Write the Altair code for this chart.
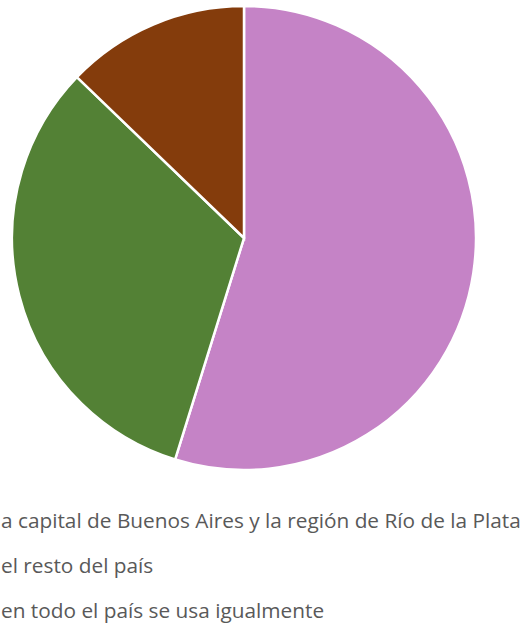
import altair as alt
import pandas as pd

categories = [
    "a capital de Buenos Aires y la región de Río de la Plata",
    "el resto del país",
    "en todo el país se usa igualmente",
]
values = [54.8, 32.4, 12.8]
colors = ["#C583C6", "#538135", "#843C0C"]

df = pd.DataFrame({"cat": categories, "val": values, "ord": [0, 1, 2]})

pie = alt.Chart(df).mark_arc(radius=232, stroke="white", strokeWidth=2.5).encode(
    theta=alt.Theta("val:Q", stack=True),
    order=alt.Order("ord:Q"),
    color=alt.Color("cat:N", scale=alt.Scale(domain=categories, range=colors), legend=None),
    x=alt.value(244),
    y=alt.value(238),
)

legend = alt.Chart(df).mark_text(
    align="left", baseline="middle", font="Open Sans", fontSize=20.8, color="#595959"
).encode(
    text="cat:N",
    x=alt.value(1),
    y=alt.Y("cat:N", sort=categories,
            scale=alt.Scale(type="point", padding=0, domain=categories, range=[522, 612]),
            axis=None),
)

chart = alt.layer(pie, legend).properties(
    width=525, height=625, padding=0, autosize=alt.AutoSizeParams(type="none")
).configure_view(stroke=None)

chart.save("out.html", embed_options={"renderer": "svg", "actions": False})
